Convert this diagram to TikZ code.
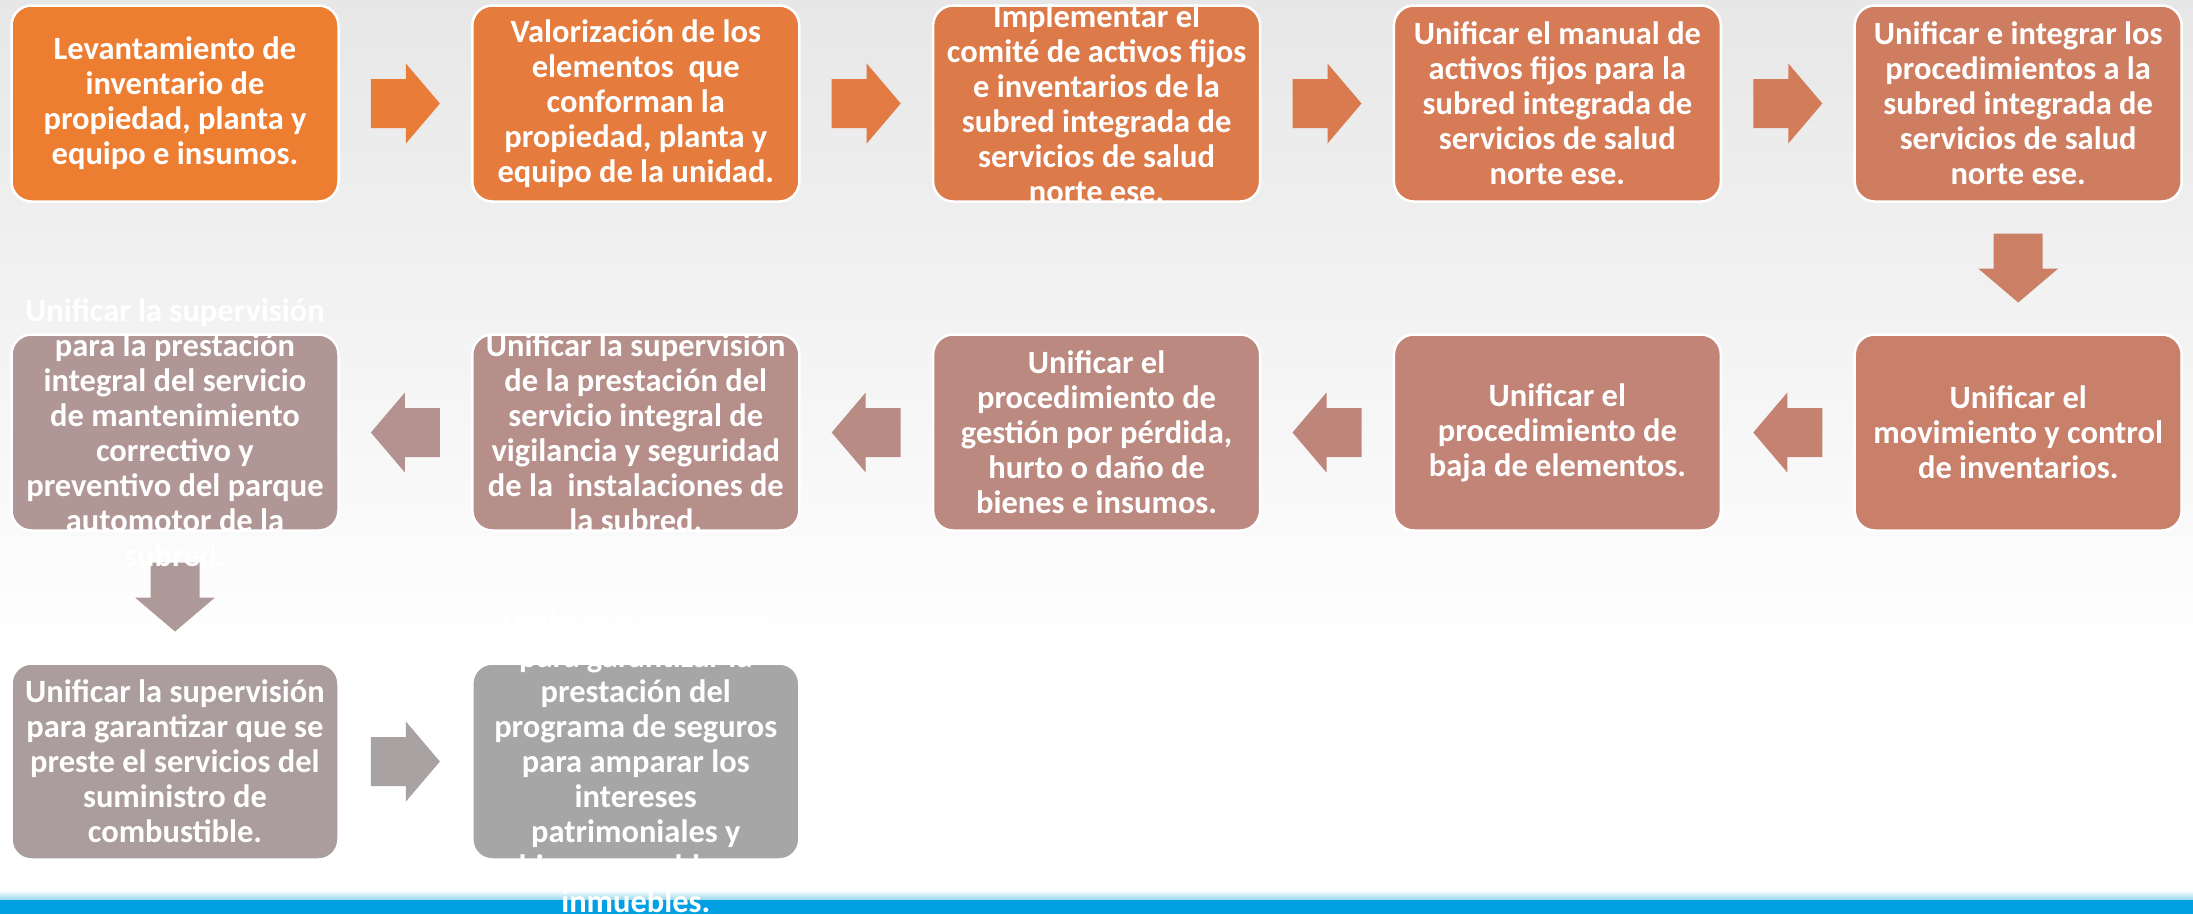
\documentclass[tikz,border=0pt]{standalone}
\usepackage{fontspec}
\setmainfont{Carlito}
\usetikzlibrary{calc}
\definecolor{c0}{RGB}{237,125,49}
\definecolor{c1}{RGB}{229,123,61}
\definecolor{c2}{RGB}{221,122,73}
\definecolor{c3}{RGB}{214,123,85}
\definecolor{c4}{RGB}{207,125,96}
\definecolor{c5}{RGB}{200,128,107}
\definecolor{c6}{RGB}{193,132,118}
\definecolor{c7}{RGB}{187,137,128}
\definecolor{c8}{RGB}{182,143,138}
\definecolor{c9}{RGB}{176,150,148}
\definecolor{c10}{RGB}{171,157,157}
\definecolor{c11}{RGB}{166,166,166}
\definecolor{bgtop}{RGB}{231,231,231}
\definecolor{stripblue}{RGB}{0,160,227}
\definecolor{striplight}{RGB}{150,215,235}
\tikzset{
  box/.style={rectangle, rounded corners=20pt, draw=white, line width=2.5pt,
    minimum width=327pt, minimum height=196pt, inner sep=0pt},
  txt/.style={text=white, font=\fontsize{32.5}{35}\selectfont\bfseries,
    align=center, inner sep=0pt},
  blockarrow/.pic={\path[pic actions] (-34.5,-24.5) -- (0.5,-24.5) -- (0.5,-40)
    -- (34.5,0) -- (0.5,40) -- (0.5,24.5) -- (-34.5,24.5) -- cycle;}
}
\begin{document}
\begin{tikzpicture}[x=1pt,y=1pt]
\useasboundingbox (0,0) rectangle (2193,-914);
% background
\shade[top color=bgtop, bottom color=white] (0,0) rectangle (2193,-660);
\fill[white] (0,-660) rectangle (2193,-914);
\shade[top color=white, bottom color=striplight] (0,-890) rectangle (2193,-900);
\fill[stripblue] (0,-900) rectangle (2193,-914);
% boxes
\node[box, fill=c0] (b1) at (175,-103.5) {};
\node[box, fill=c1] (b2) at (635.8,-103.5) {};
\node[box, fill=c2] (b3) at (1096.6,-103.5) {};
\node[box, fill=c3] (b4) at (1557.4,-103.5) {};
\node[box, fill=c4] (b5) at (2018.2,-103.5) {};
\node[box, fill=c5] (b6) at (2018.2,-432.5) {};
\node[box, fill=c6] (b7) at (1557.4,-432.5) {};
\node[box, fill=c7] (b8) at (1096.6,-432.5) {};
\node[box, fill=c8] (b9) at (635.8,-432.5) {};
\node[box, fill=c9] (b10) at (175,-432.5) {};
\node[box, fill=c10] (b11) at (175,-761.5) {};
\node[box, fill=c11] (b12) at (635.8,-761.5) {};
% arrows
\coordinate (m1) at ($(b1.east)!0.5!(b2.west)$);
\coordinate (m2) at ($(b2.east)!0.5!(b3.west)$);
\coordinate (m3) at ($(b3.east)!0.5!(b4.west)$);
\coordinate (m4) at ($(b4.east)!0.5!(b5.west)$);
\coordinate (m5) at ($(b5.south)!0.5!(b6.north)$);
\coordinate (m6) at ($(b6.west)!0.5!(b7.east)$);
\coordinate (m7) at ($(b7.west)!0.5!(b8.east)$);
\coordinate (m8) at ($(b8.west)!0.5!(b9.east)$);
\coordinate (m9) at ($(b9.west)!0.5!(b10.east)$);
\coordinate (m10) at ($(b10.south)!0.5!(b11.north)$);
\coordinate (m11) at ($(b11.east)!0.5!(b12.west)$);
\pic[fill=c0!50!c1] at (m1) {blockarrow};
\pic[fill=c1!50!c2] at (m2) {blockarrow};
\pic[fill=c2!50!c3] at (m3) {blockarrow};
\pic[fill=c3!50!c4] at (m4) {blockarrow};
\pic[fill=c4!50!c5, rotate=-90] at (m5) {blockarrow};
\pic[fill=c5!50!c6, rotate=180] at (m6) {blockarrow};
\pic[fill=c6!50!c7, rotate=180] at (m7) {blockarrow};
\pic[fill=c7!50!c8, rotate=180] at (m8) {blockarrow};
\pic[fill=c8!50!c9, rotate=180] at (m9) {blockarrow};
\pic[fill=c9!50!c10, rotate=-90] at (m10) {blockarrow};
\pic[fill=c10!50!c11] at (m11) {blockarrow};
% texts
\node[txt] (t1) at (b1.center) {Levantamiento de\\inventario de\\propiedad, planta y\\equipo e insumos.};
\node[txt] (t2) at (b2.center) {Valorización de los\\elementos\ \ que\\conforman la\\propiedad, planta y\\equipo de la unidad.};
\node[txt] (t3) at (b3.center) {Implementar el\\comité de activos fijos\\e inventarios de la\\subred integrada de\\servicios de salud\\norte ese.};
\node[txt] (t4) at (b4.center) {Unificar el manual de\\activos fijos para la\\subred integrada de\\servicios de salud\\norte ese.};
\node[txt] (t5) at (b5.center) {Unificar e integrar los\\procedimientos a la\\subred integrada de\\servicios de salud\\norte ese.};
\node[txt] (t6) at (b6.center) {Unificar el\\movimiento y control\\de inventarios.};
\node[txt] (t7) at (b7.center) {Unificar el\\procedimiento de\\baja de elementos.};
\node[txt] (t8) at (b8.center) {Unificar el\\procedimiento de\\gestión por pérdida,\\hurto o daño de\\bienes e insumos.};
\node[txt] (t9) at (b9.center) {Unificar la supervisión\\de la prestación del\\servicio integral de\\vigilancia y seguridad\\de la\ \ instalaciones de\\la subred.};
\node[txt] (t10) at (b10.center) {Unificar la supervisión\\para la prestación\\integral del servicio\\de mantenimiento\\correctivo y\\preventivo del parque\\automotor de la\\subred.};
\node[txt] (t11) at (b11.center) {Unificar la supervisión\\para garantizar que se\\preste el servicios del\\suministro de\\combustible.};
\node[txt] (t12) at (b12.center) {Unificar supervisión\\para garantizar la\\prestación del\\programa de seguros\\para amparar los\\intereses\\patrimoniales y\\bienes muebles e\\inmuebles.};
\end{tikzpicture}
\end{document}
